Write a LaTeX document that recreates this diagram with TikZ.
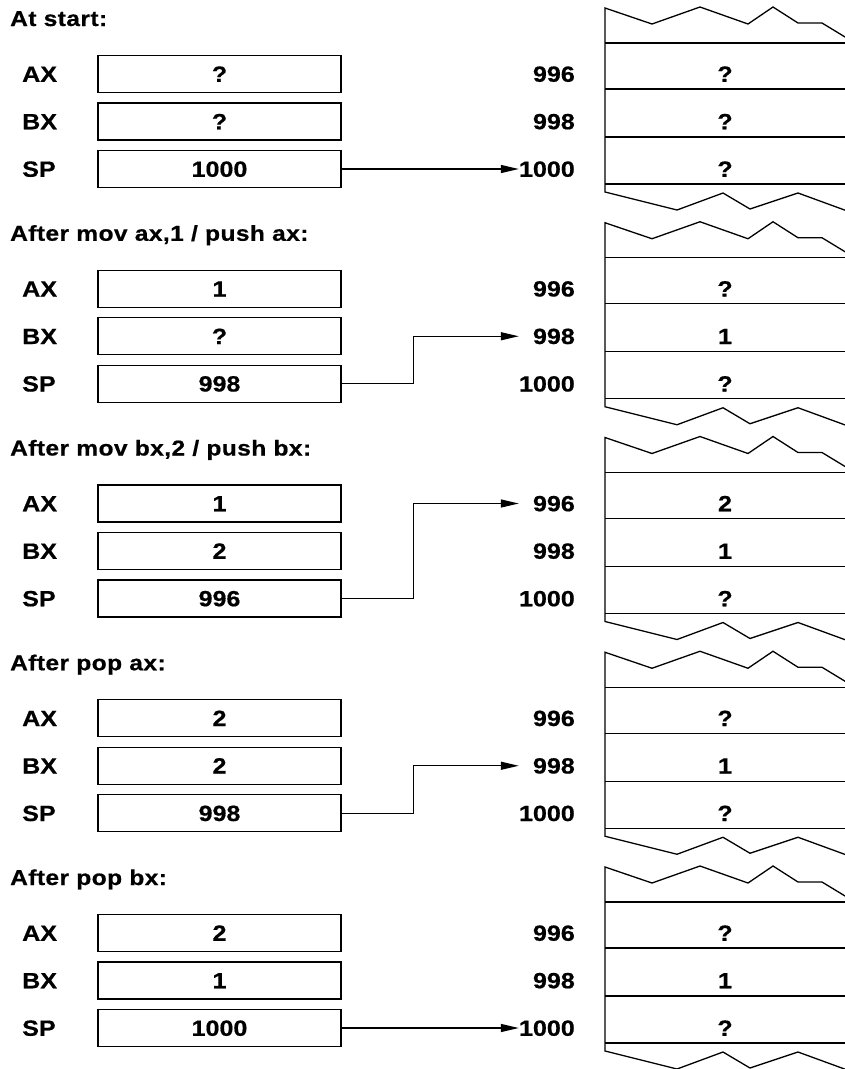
\documentclass[tikz,border=0pt]{standalone}
\usepackage{fontspec}
\setmainfont{Liberation Sans}[FakeStretch=1.14,BoldFeatures={FakeBold=0.6}]
\newfontfamily\ttlfont{Liberation Sans}[FakeStretch=1.14,LetterSpace=2,BoldFeatures={FakeBold=0.6}]
\usetikzlibrary{arrows.meta}
\tikzset{
  lbl/.style={font=\bfseries\fontsize{22}{26}\selectfont, inner sep=0pt, text height=15.5pt, text depth=0pt},
  regbox/.style={lbl, draw, line width=1.3pt, minimum width=243pt, minimum height=37pt},
  ttl/.style={font=\ttlfont\bfseries\fontsize{21.5}{26}\selectfont, inner sep=0pt, anchor=base west},
  stackline/.style={line width=1.3pt, line join=miter},
  ptr/.style={line width=1.3pt, -{Triangle[length=18pt,width=8pt]}},
}
\newcommand\drawpanel[8]{%
  \begin{scope}[shift={(0,55+#1*214.75)}]
    \node[ttl] (t#1) at (10,-29) {#2};
    \node[lbl,anchor=west] (lax#1) at (22,19) {AX};
    \node[lbl,anchor=west] (lbx#1) at (22,66.5) {BX};
    \node[lbl,anchor=west] (lsp#1) at (22,114) {SP};
    \node[regbox] (ax#1) at (219.5,19) {#3};
    \node[regbox] (bx#1) at (219.5,66.5) {#4};
    \node[regbox] (sp#1) at (219.5,114) {#5};
    \node[lbl,anchor=east] (ma#1) at (575,19) {996};
    \node[lbl,anchor=east] (mb#1) at (575,66.5) {998};
    \node[lbl,anchor=east] (mc#1) at (575,114) {1000};
    \draw[stackline] (850,-15) -- (822,-32) -- (798,-32) -- (773,-48) -- (748,-31)
      -- (700,-48) -- (652,-31) -- (605,-47) -- (605,137) -- (677,155) -- (723,138)
      -- (750,154) -- (798,138) -- (850,157);
    \foreach \yy in {-12,34,82,129} \draw[stackline] (605,\yy) -- (850,\yy);
    \node[lbl] (sa#1) at (725,19) {#6};
    \node[lbl] (sb#1) at (725,66.5) {#7};
    \node[lbl] (sc#1) at (725,114) {#8};
  \end{scope}}
\begin{document}
\begin{tikzpicture}[x=1pt,y=-1pt]
  \useasboundingbox (0,0) rectangle (845,1069);
  \clip (0,0) rectangle (845,1069);
  \drawpanel{0}{At start:}{?}{?}{1000}{?}{?}{?}
  \drawpanel{1}{After mov ax,1 / push ax:}{1}{?}{998}{?}{1}{?}
  \drawpanel{2}{After mov bx,2 / push bx:}{1}{2}{996}{2}{1}{?}
  \drawpanel{3}{After pop ax:}{2}{2}{998}{?}{1}{?}
  \drawpanel{4}{After pop bx:}{2}{1}{1000}{?}{1}{?}
  \draw[ptr] (sp0.east) -- (mc0.west);
  \draw[ptr, shorten >=14pt] (sp1.east) -- ++(72,0) |- (mb1.west);
  \draw[ptr, shorten >=14pt] (sp2.east) -- ++(72,0) |- (ma2.west);
  \draw[ptr, shorten >=14pt] (sp3.east) -- ++(72,0) |- (mb3.west);
  \draw[ptr] (sp4.east) -- (mc4.west);
\end{tikzpicture}
\end{document}
